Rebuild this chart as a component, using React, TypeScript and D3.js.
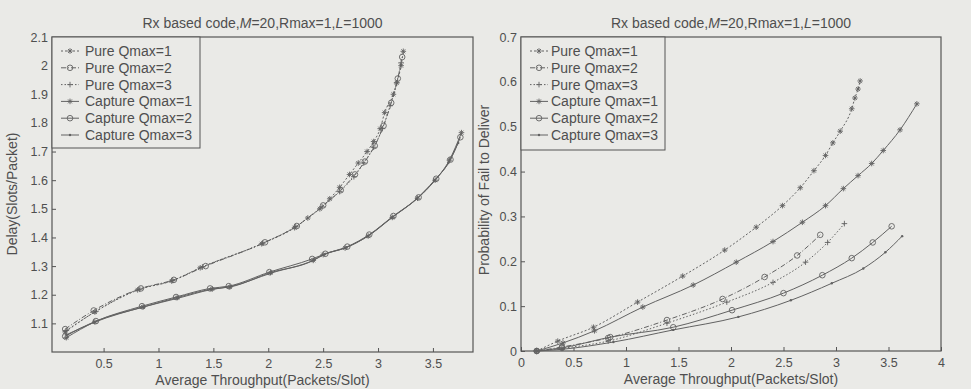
import * as d3 from "d3";
import { useEffect, useRef } from "react";

const W = 971;
const H = 389;

const COLORS = {
  background: "#eaeae7",
  ink: "#555555",
  line: "#626262",
  text: "#4f4f4f",
};

// ---- left panel: delay vs throughput ----
const delayPure1X = [0.15, 0.42, 0.81, 1.12, 1.38, 1.94, 2.24, 2.36, 2.47, 2.56, 2.65, 2.74, 2.82, 2.9, 2.96, 3.02, 3.06, 3.14, 3.17, 3.21, 3.23];
const delayPure1Y = [1.07, 1.14, 1.217, 1.248, 1.294, 1.378, 1.434, 1.468, 1.5, 1.535, 1.575, 1.62, 1.66, 1.7, 1.735, 1.78, 1.836, 1.9, 1.94, 2.0, 2.05];
const delayPure2X = [0.15, 0.41, 0.84, 1.14, 1.43, 1.97, 2.26, 2.5, 2.66, 2.79, 2.88, 2.97, 3.05, 3.12, 3.18, 3.22];
const delayPure2Y = [1.08, 1.145, 1.222, 1.252, 1.3, 1.383, 1.44, 1.512, 1.565, 1.62, 1.665, 1.72, 1.79, 1.87, 1.955, 2.03];
const delayPure3X = [0.16, 0.43, 0.83, 1.13, 1.4, 1.95, 2.25, 2.49, 2.65, 2.78, 2.87, 2.96, 3.04, 3.11, 3.17, 3.21];
const delayPure3Y = [1.075, 1.142, 1.219, 1.25, 1.297, 1.38, 1.438, 1.507, 1.56, 1.612, 1.66, 1.715, 1.78, 1.86, 1.94, 2.01];
const delayCap1X = [0.16, 0.42, 0.86, 1.17, 1.49, 1.65, 2.02, 2.41, 2.5, 2.7, 2.91, 3.13, 3.36, 3.52, 3.65, 3.76];
const delayCap1Y = [1.05, 1.105, 1.157, 1.19, 1.22, 1.227, 1.277, 1.32, 1.34, 1.363, 1.405, 1.47, 1.537, 1.6, 1.67, 1.766];
const delayCap2X = [0.15, 0.43, 0.85, 1.16, 1.47, 1.64, 2.01, 2.4, 2.52, 2.72, 2.92, 3.14, 3.37, 3.53, 3.66, 3.75];
const delayCap2Y = [1.055, 1.108, 1.16, 1.192, 1.222, 1.23, 1.279, 1.325, 1.343, 1.368, 1.41, 1.475, 1.54, 1.605, 1.672, 1.75];
const delayCap3X = [0.16, 0.41, 0.87, 1.18, 1.48, 1.66, 2.03, 2.42, 2.51, 2.71, 2.9, 3.12, 3.35, 3.51, 3.64, 3.73];
const delayCap3Y = [1.06, 1.103, 1.158, 1.188, 1.218, 1.229, 1.276, 1.322, 1.34, 1.365, 1.403, 1.468, 1.535, 1.598, 1.66, 1.73];

// ---- right panel: probability of fail to deliver ----
const failPure1X = [0.15, 0.35, 0.69, 1.11, 1.54, 1.94, 2.24, 2.49, 2.66, 2.79, 2.9, 2.97, 3.04, 3.15, 3.18, 3.21, 3.23];
const failPure1Y = [0, 0.022, 0.053, 0.109, 0.167, 0.225, 0.276, 0.324, 0.364, 0.402, 0.436, 0.464, 0.49, 0.54, 0.564, 0.584, 0.602];
const failPure2X = [0.15, 0.39, 0.83, 1.39, 1.92, 2.32, 2.63, 2.85];
const failPure2Y = [0, 0.009, 0.029, 0.069, 0.116, 0.165, 0.213, 0.259];
const failPure3X = [0.15, 0.39, 0.83, 1.39, 1.96, 2.4, 2.71, 2.92, 3.08];
const failPure3Y = [0, 0.006, 0.022, 0.062, 0.109, 0.153, 0.198, 0.242, 0.284];
const failCap1X = [0.15, 0.4, 0.7, 1.16, 1.64, 2.05, 2.4, 2.68, 2.9, 3.07, 3.21, 3.34, 3.45, 3.61, 3.77];
const failCap1Y = [0, 0.018, 0.045, 0.098, 0.147, 0.198, 0.244, 0.287, 0.324, 0.362, 0.391, 0.418, 0.447, 0.493, 0.551];
const failCap2X = [0.15, 0.39, 0.85, 1.45, 2.01, 2.5, 2.87, 3.15, 3.35, 3.53];
const failCap2Y = [0, 0.007, 0.031, 0.053, 0.091, 0.129, 0.169, 0.207, 0.242, 0.278];
const failCap3X = [0.15, 0.4, 0.88, 1.45, 2.07, 2.57, 2.96, 3.26, 3.47, 3.63];
const failCap3Y = [0, 0.004, 0.02, 0.047, 0.076, 0.113, 0.151, 0.184, 0.22, 0.256];

const seriesNames = ["Pure Qmax=1", "Pure Qmax=2", "Pure Qmax=3", "Capture Qmax=1", "Capture Qmax=2", "Capture Qmax=3"];
const seriesMarkers = ["star", "circle", "plus", "star", "circle", "dot"];
const seriesDash = ["2,2", "5,2,1,2", "1.5,2", null, null, null];

const leftXTicks = [0.5, 1, 1.5, 2, 2.5, 3, 3.5];
const leftYTicks = [1.1, 1.2, 1.3, 1.4, 1.5, 1.6, 1.7, 1.8, 1.9, 2, 2.1];
const rightXTicks = [0, 0.5, 1, 1.5, 2, 2.5, 3, 3.5, 4];
const rightYTicks = [0, 0.1, 0.2, 0.3, 0.4, 0.5, 0.6, 0.7];

const FONT = "'Liberation Sans', Arial, sans-serif";

const zip = (xs, ys) => xs.map((x, i) => ({ x, y: ys[i] }));

const drawMarker = (g, kind, cx, cy, size = 3) => {
  if (kind === "circle") {
    g.append("circle").attr("cx", cx).attr("cy", cy).attr("r", size)
      .attr("fill", "none").attr("stroke", COLORS.line).attr("stroke-width", 0.9);
  } else if (kind === "plus") {
    g.append("path")
      .attr("d", `M${cx - size},${cy}H${cx + size}M${cx},${cy - size}V${cy + size}`)
      .attr("stroke", COLORS.line).attr("stroke-width", 0.9);
  } else if (kind === "star") {
    const s = size;
    const d = s * 0.7;
    g.append("path")
      .attr("d", `M${cx - s},${cy}H${cx + s}M${cx},${cy - s}V${cy + s}M${cx - d},${cy - d}L${cx + d},${cy + d}M${cx - d},${cy + d}L${cx + d},${cy - d}`)
      .attr("stroke", COLORS.line).attr("stroke-width", 0.9);
  } else {
    g.append("circle").attr("cx", cx).attr("cy", cy).attr("r", 1.2).attr("fill", COLORS.line);
  }
};

const drawPanel = (svg, cfg) => {
  const { left, right, top, bottom, xDomain, yDomain, xTicks, yTicks, series, yTitle, yTitleX, yTitleY, legend } = cfg;
  const x = d3.scaleLinear().domain(xDomain).range([left, right]);
  const y = d3.scaleLinear().domain(yDomain).range([bottom, top]);
  const fmt = (d) => String(+d.toFixed(1));

  const xAxis = d3.axisBottom(x).tickValues(xTicks).tickFormat(fmt).tickSize(-4).tickSizeOuter(0).tickPadding(7);
  const yAxis = d3.axisLeft(y).tickValues(yTicks).tickFormat(fmt).tickSize(-4).tickSizeOuter(0).tickPadding(4);

  const gx = svg.append("g").attr("transform", `translate(0,${bottom})`).call(xAxis);
  const gy = svg.append("g").attr("transform", `translate(${left},0)`).call(yAxis);
  [gx, gy].forEach((g) => {
    g.select(".domain").remove();
    g.selectAll("line").attr("stroke", COLORS.ink);
    g.selectAll("text").attr("fill", COLORS.text).attr("font-family", FONT).attr("font-size", 12.5);
  });

  svg.append("rect")
    .attr("x", left).attr("y", top).attr("width", right - left).attr("height", bottom - top)
    .attr("fill", "none").attr("stroke", COLORS.ink).attr("stroke-width", 1.2);

  const line = d3.line().x((d) => x(d.x)).y((d) => y(d.y)).curve(d3.curveMonotoneX);

  series.forEach((s, i) => {
    svg.append("path")
      .datum(s)
      .attr("d", line)
      .attr("fill", "none")
      .attr("stroke", COLORS.line)
      .attr("stroke-width", 1)
      .attr("stroke-dasharray", seriesDash[i]);
    const mg = svg.append("g");
    s.forEach((p) => drawMarker(mg, seriesMarkers[i], x(p.x), y(p.y), 2.8));
  });

  // title
  const title = svg.append("text")
    .attr("x", (left + right) / 2).attr("y", top - 9)
    .attr("text-anchor", "middle").attr("font-family", FONT).attr("font-size", 14)
    .attr("fill", COLORS.text);
  title.append("tspan").text("Rx based code,");
  title.append("tspan").attr("font-style", "italic").text("M");
  title.append("tspan").text("=20,Rmax=1,");
  title.append("tspan").attr("font-style", "italic").text("L");
  title.append("tspan").text("=1000");

  // x title
  svg.append("text")
    .attr("x", (left + right) / 2).attr("y", bottom + 33)
    .attr("text-anchor", "middle").attr("font-family", FONT).attr("font-size", 14)
    .attr("fill", COLORS.text)
    .text("Average Throughput(Packets/Slot)");

  // y title
  svg.append("text")
    .attr("transform", `translate(${yTitleX},${yTitleY}) rotate(-90)`)
    .attr("text-anchor", "middle").attr("font-family", FONT).attr("font-size", 14)
    .attr("fill", COLORS.text)
    .text(yTitle);

  // legend
  const lg = svg.append("g");
  lg.append("rect")
    .attr("x", left).attr("y", top).attr("width", legend.width).attr("height", legend.height)
    .attr("fill", COLORS.background).attr("stroke", COLORS.ink).attr("stroke-width", 1);
  seriesNames.forEach((name, i) => {
    const ly = top + 14 + i * 16.8;
    lg.append("line")
      .attr("x1", left + 9).attr("x2", left + 27).attr("y1", ly).attr("y2", ly)
      .attr("stroke", COLORS.line).attr("stroke-width", 1)
      .attr("stroke-dasharray", seriesDash[i]);
    drawMarker(lg, seriesMarkers[i], left + 18, ly, 2.8);
    lg.append("text")
      .attr("x", left + legend.textOffset).attr("y", ly).attr("dy", "0.35em")
      .attr("font-family", FONT).attr("font-size", 14).attr("fill", COLORS.text)
      .text(name);
  });
};

const App = () => {
  const svgRef = useRef(null);

  useEffect(() => {
    const svg = d3.select(svgRef.current);
    svg.selectAll("*").remove();
    svg.append("rect").attr("width", W).attr("height", H).attr("fill", COLORS.background);

    drawPanel(svg, {
      left: 52, right: 473, top: 37, bottom: 352,
      xDomain: [0.03, 3.865], yDomain: [1.0, 2.1],
      xTicks: leftXTicks, yTicks: leftYTicks,
      series: [
        zip(delayPure1X, delayPure1Y), zip(delayPure2X, delayPure2Y), zip(delayPure3X, delayPure3Y),
        zip(delayCap1X, delayCap1Y), zip(delayCap2X, delayCap2Y), zip(delayCap3X, delayCap3Y),
      ],
      yTitle: "Delay(Slots/Packet)", yTitleX: 17, yTitleY: 194,
      legend: { width: 148, height: 111, textOffset: 33 },
    });

    drawPanel(svg, {
      left: 521, right: 941, top: 37, bottom: 351,
      xDomain: [0, 4], yDomain: [0, 0.7],
      xTicks: rightXTicks, yTicks: rightYTicks,
      series: [
        zip(failPure1X, failPure1Y), zip(failPure2X, failPure2Y), zip(failPure3X, failPure3Y),
        zip(failCap1X, failCap1Y), zip(failCap2X, failCap2Y), zip(failCap3X, failCap3Y),
      ],
      yTitle: "Probability of Fail to Deliver", yTitleX: 489, yTitleY: 190,
      legend: { width: 144, height: 113, textOffset: 30 },
    });
  }, []);

  return (
    <div style={{ position: "fixed", left: 0, top: 0 }}>
      <svg ref={svgRef} width={W} height={H} style={{ display: "block" }} />
    </div>
  );
};

export default App;
